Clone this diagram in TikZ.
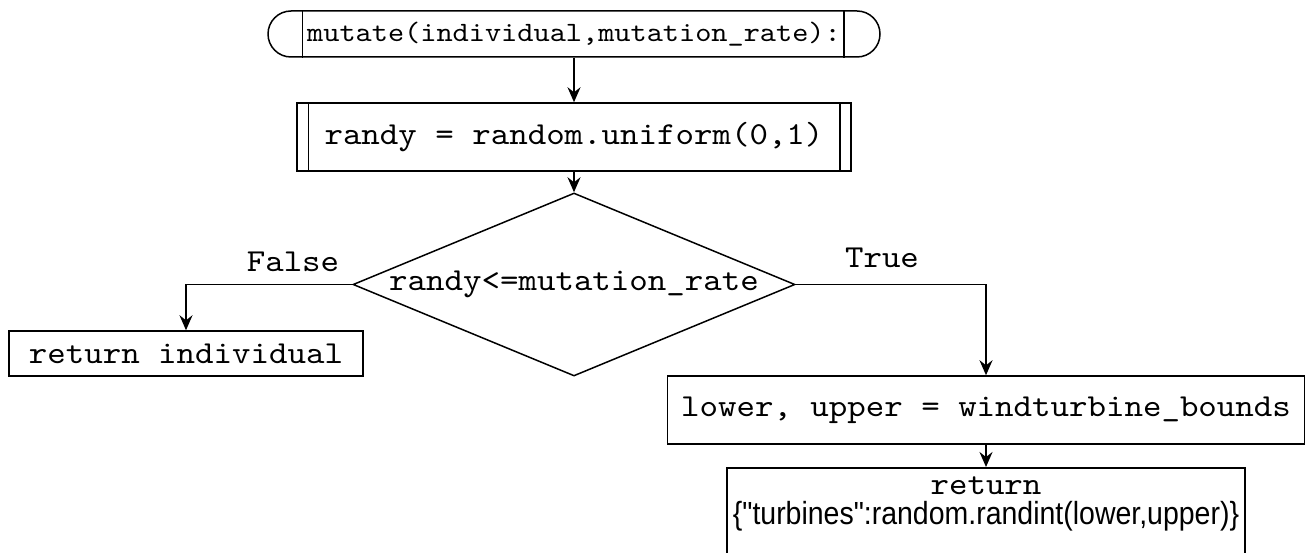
\documentclass[tikz,border=0pt]{standalone}
\usepackage{fontspec}
\setmonofont{lmmono10-regular.otf}[FakeStretch=1.1]
\newfontfamily\narrowsans[FakeStretch=0.89]{Liberation Sans}
\usetikzlibrary{arrows.meta,shapes.geometric}

\newcommand{\codefont}{\fontsize{32}{32}\selectfont\ttfamily}
\newcommand{\headfont}{\fontsize{28}{30}\selectfont\ttfamily}

\tikzset{
  box/.style={draw, line width=1.5pt, inner sep=0pt, font=\codefont},
  flow/.style={line width=1.5pt, -{Stealth[length=15pt,width=13pt,inset=5pt]}},
  lbl/.style={font=\codefont, inner sep=0pt},
}

\begin{document}
\begin{tikzpicture}[x=1pt,y=-1pt]
\clip (0,0) rectangle (1311,553);

%start
\node[box, rounded corners=23pt, minimum width=612pt, minimum height=46pt, font=\headfont] (mutate) at (574,34) {mutate(individual,mutation\_rate):};
\draw[line width=1.5pt] ([xshift=35pt]mutate.north west) -- ([xshift=35pt]mutate.south west);
\draw[line width=1.5pt] ([xshift=-37pt]mutate.north east) -- ([xshift=-37pt]mutate.south east);

%random draw
\node[box, minimum width=554pt, minimum height=68pt] (rand) at (574,137) {randy = random.uniform(0,1)};
\draw[line width=1.5pt] ([xshift=12pt]rand.north west) -- ([xshift=12pt]rand.south west);
\draw[line width=1.5pt] ([xshift=-12pt]rand.north east) -- ([xshift=-12pt]rand.south east);

%decision
\node[box, diamond, shape aspect=2.42, minimum width=442pt, minimum height=183pt] (cond) at (574,284.5) {randy<=mutation\_rate};

%outcomes
\node[box, minimum width=354pt, minimum height=45pt] (keep) at (186,353.5) {return individual};
\node[box, minimum width=637pt, minimum height=68pt] (bounds) at (986,410) {lower, upper = windturbine\_bounds};
\node[box, anchor=north, align=center, minimum width=518pt, inner ysep=9pt, text depth=80pt] (newind) at (986,467)
  {return\\[-2pt]{\narrowsans\fontsize{32}{32}\selectfont\{"turbines":random.randint(lower,upper)\}}};

%arrows
\draw[flow] (mutate) -- (rand);
\draw[flow] (rand) -- (cond);
\draw[flow] (cond.west) -| (keep.north);
\draw[flow] (cond.east) -| (bounds.north);
\draw[flow] (bounds) -- (newind);

\node[lbl] (nofalse) at (293,262) {False};
\node[lbl] (notrue) at (882,258) {True};

\end{tikzpicture}
\end{document}
